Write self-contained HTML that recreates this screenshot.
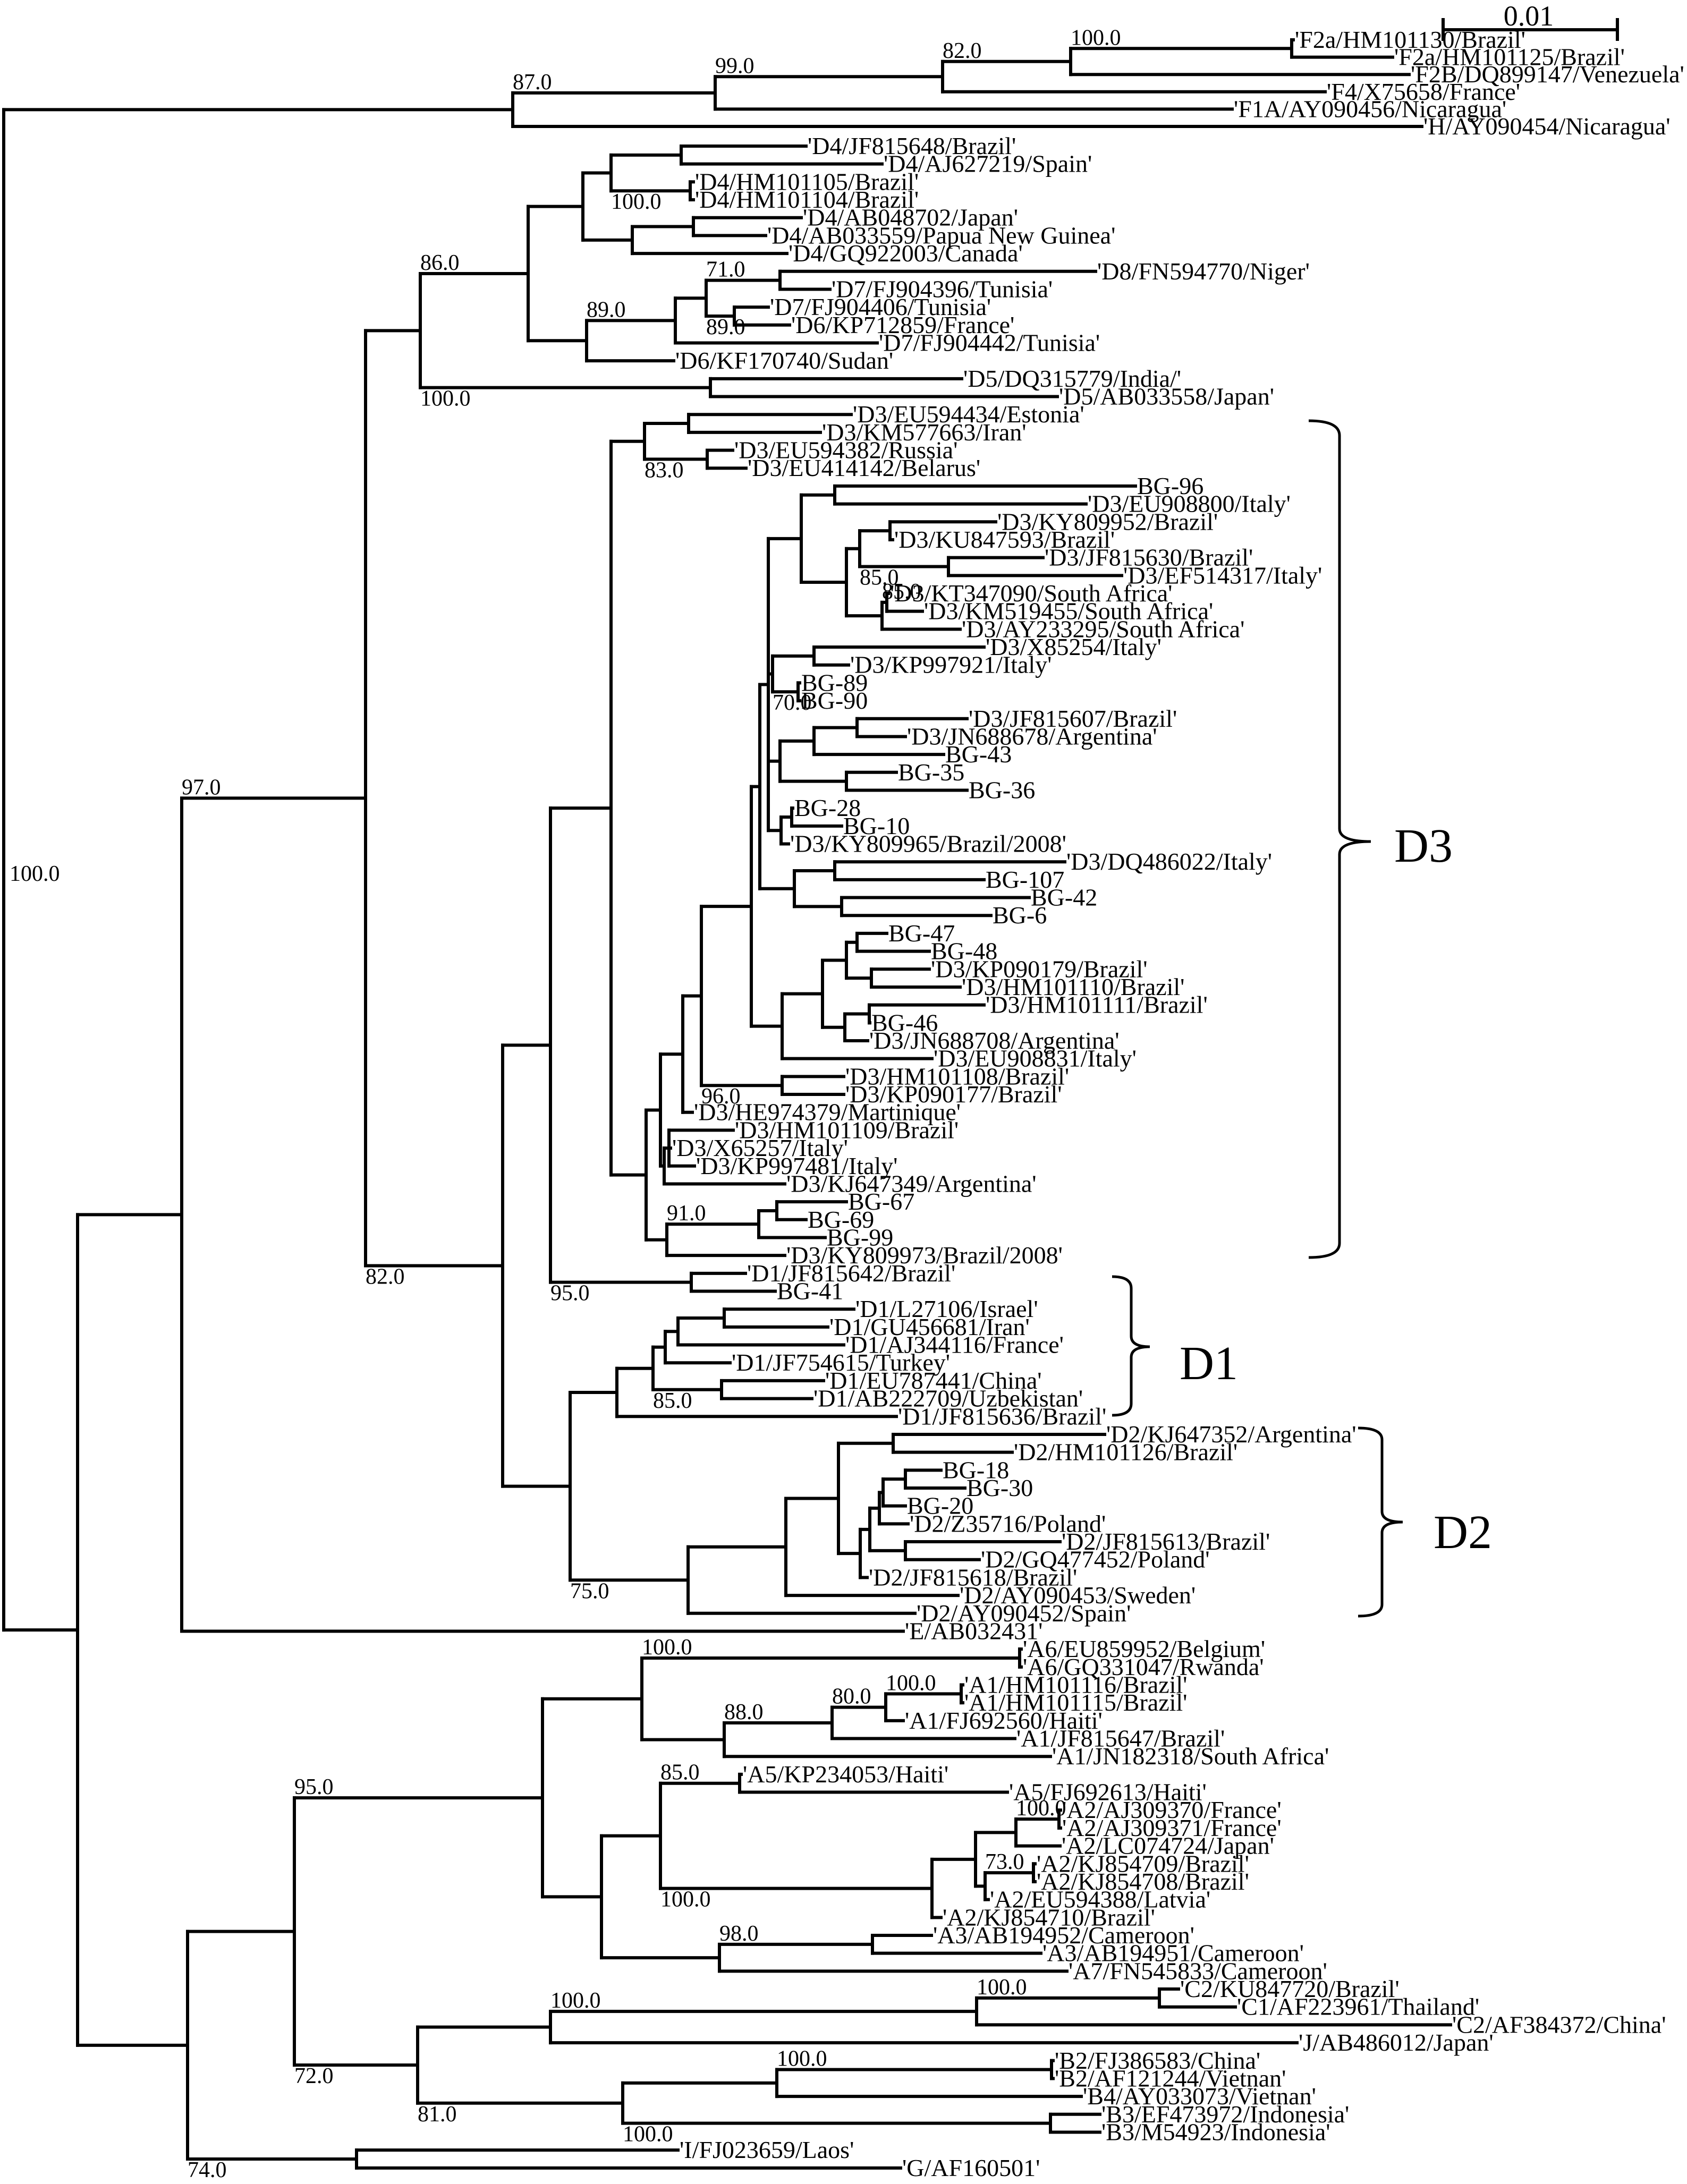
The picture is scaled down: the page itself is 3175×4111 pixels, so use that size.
<!DOCTYPE html>
<html><head><meta charset="utf-8">
<style>
html,body{margin:0;padding:0;background:#fff;}
svg{display:block;}
text{font-family:"Liberation Serif",serif;fill:#000;}
</style></head>
<body>
<svg id="tree" xmlns="http://www.w3.org/2000/svg" width="3175" height="4111" viewBox="0 0 3175 4111">
<g id="branches" stroke="#000" stroke-width="6" fill="none" stroke-linecap="square"></g>
<g id="labels" font-size="46"></g>
<g id="boots" font-size="42"></g>
<g stroke="#000" stroke-width="6" fill="none">
<line x1="2716" y1="56" x2="3044" y2="56"/><line x1="2716" y1="34" x2="2716" y2="77"/><line x1="3044" y1="34" x2="3044" y2="77"/>
</g>
<text x="2877" y="48" font-size="54" text-anchor="middle">0.01</text>
<text x="18" y="1658" font-size="42">100.0</text>
<g stroke="#000" stroke-width="5" fill="none">
<path d="M2463 792 Q2521 792 2521 820 L2521 1560 Q2521 1584 2580 1584 Q2521 1584 2521 1608 L2521 2340 Q2521 2367 2463 2367"/>
<path d="M2093 2403 Q2129 2403 2129 2425 L2129 2515 Q2129 2535 2164 2535 Q2129 2535 2129 2555 L2129 2642 Q2129 2664 2093 2664"/>
<path d="M2556 2688 Q2601 2688 2601 2710 L2601 2845 Q2601 2865 2640 2865 Q2601 2865 2601 2885 L2601 3020 Q2601 3042 2556 3042"/>
</g>
<text x="2624" y="1622" font-size="90">D3</text>
<text x="2220" y="2596" font-size="90">D1</text>
<text x="2698" y="2914" font-size="90">D2</text>
</svg>
<script>
function L(n,x){return {n:n,x:x};}
function N(x,c,b1,p1,b2,p2){return {x:x,c:c,b:[b1,p1,b2,p2]};}
const tree = N(7,[
 N(965,[
  N(1346,[
   N(1774,[
    N(2015,[N(2431,[L("'F2a/HM101130/Brazil'",2434),L("'F2a/HM101125/Brazil'",2621)]),L("'F2B/DQ899147/Venezuela'",2652)],'100.0','a'),
    L("'F4/X75658/France'",2494)
   ],'82.0','a'),
   L("'F1A/AY090456/Nicaragua'",2319)
  ],'99.0','a'),
  L("'H/AY090454/Nicaragua'",2676)
 ],'87.0','a'),
 N(146,[
  N(342,[
   N(688,[
    N(791,[
     N(994,[
      N(1097,[
       N(1150,[N(1282,[L("'D4/JF815648/Brazil'",1517),L("'D4/AJ627219/Spain'",1660)]),N(1299,[L("'D4/HM101105/Brazil'",1305),L("'D4/HM101104/Brazil'",1305)])],'100.0','b'),
       N(1190,[N(1305,[L("'D4/AB048702/Japan'",1508),L("'D4/AB033559/Papua New Guinea'",1441)]),L("'D4/GQ922003/Canada'",1481)])
      ]),
      N(1104,[
       N(1271,[
        N(1329,[N(1468,[L("'D8/FN594770/Niger'",2062),L("'D7/FJ904396/Tunisia'",1562)]),N(1382,[L("'D7/FJ904406/Tunisia'",1446),L("'D6/KP712859/France'",1486)])],'71.0','a','89.0','b'),
        L("'D7/FJ904442/Tunisia'",1651)
       ]),
       L("'D6/KF170740/Sudan'",1268)
      ],'89.0','a')
     ]),
     N(1337,[L("'D5/DQ315779/India/'",1810),L("'D5/AB033558/Japan'",1990)])
    ],'86.0','a','100.0','b'),
    N(946,[
     N(1036,[
      N(1150,[
       N(1213,[N(1296,[L("'D3/EU594434/Estonia'",1602),L("'D3/KM577663/Iran'",1544)]),N(1331,[L("'D3/EU594382/Russia'",1379),L("'D3/EU414142/Belarus'",1404)])],'83.0','b'),
       N(1216,[
        N(1243,[
         N(1285,[
          N(1320,[
           N(1414,[
            N(1430,[
             N(1446,[
              N(1508,[
               N(1571,[L("BG-96",2137),L("'D3/EU908800/Italy'",2044)]),
               N(1593,[
                N(1618,[N(1675,[L("'D3/KY809952/Brazil'",1874),L("'D3/KU847593/Brazil'",1680)]),N(1785,[L("'D3/JF815630/Brazil'",1963),L("'D3/EF514317/Italy'",2111)])],'85.0','b'),
                N(1660,[N(1669,[L("'D3/KT347090/South Africa'",1672),L("'D3/KM519455/South Africa'",1736)]),L("'D3/AY233295/South Africa'",1807)],'85.0','a')
               ])
              ]),
              N(1454,[N(1532,[L("'D3/X85254/Italy'",1852),L("'D3/KP997921/Italy'",1597)]),N(1502,[L("BG-89",1505),L("BG-90",1505)])],'70.0','b'),
              N(1468,[N(1532,[N(1613,[L("'D3/JF815607/Brazil'",1820),L("'D3/JN688678/Argentina'",1704)]),L("BG-43",1776)]),N(1593,[L("BG-35",1687),L("BG-36",1820)])]),
              N(1470,[N(1490,[L("BG-28",1492),L("BG-10",1584)]),L("'D3/KY809965/Brazil/2008'",1484)])
             ]),
             N(1495,[N(1571,[L("'D3/DQ486022/Italy'",2004),L("BG-107",1852)]),N(1584,[L("BG-42",1937),L("BG-6",1865)])])
            ]),
            N(1472,[
             N(1548,[
              N(1593,[N(1613,[L("BG-47",1669),L("BG-48",1749)]),N(1640,[L("'D3/KP090179/Brazil'",1749),L("'D3/HM101110/Brazil'",1807)])]),
              N(1590,[N(1636,[L("'D3/HM101111/Brazil'",1852),L("BG-46",1637)]),L("'D3/JN688708/Argentina'",1633)])
             ]),
             L("'D3/EU908831/Italy'",1754)
            ])
           ]),
           N(1472,[L("'D3/HM101108/Brazil'",1588),L("'D3/KP090177/Brazil'",1588)])
          ],'96.0','b'),
          L("'D3/HE974379/Martinique'",1303)
         ]),
         N(1250,[N(1259,[L("'D3/HM101109/Brazil'",1380),L("'D3/X65257/Italy'",1262),L("'D3/KP997481/Italy'",1307)]),L("'D3/KJ647349/Argentina'",1477)])
        ]),
        N(1255,[N(1428,[N(1462,[L("BG-67",1593),L("BG-69",1517)]),L("BG-99",1553)]),L("'D3/KY809973/Brazil/2008'",1477)],'91.0','a')
       ])
      ]),
      N(1301,[L("'D1/JF815642/Brazil'",1403),L("BG-41",1459)])
     ],'95.0','b'),
     N(1073,[
      N(1161,[
       N(1229,[
        N(1252,[N(1276,[N(1363,[L("'D1/L27106/Israel'",1607),L("'D1/GU456681/Iran'",1558)]),L("'D1/AJ344116/France'",1588)]),L("'D1/JF754615/Turkey'",1374)]),
        N(1358,[L("'D1/EU787441/China'",1550),L("'D1/AB222709/Uzbekistan'",1528)])
       ],'85.0','b'),
       L("'D1/JF815636/Brazil'",1687)
      ]),
      N(1295,[
       N(1479,[
        N(1578,[
         N(1681,[L("'D2/KJ647352/Argentina'",2079),L("'D2/HM101126/Brazil'",1905)]),
         N(1619,[
          N(1637,[
           N(1655,[N(1662,[N(1704,[L("BG-18",1771),L("BG-30",1816)]),L("BG-20",1704)]),L("'D2/Z35716/Poland'",1709)]),
           N(1704,[L("'D2/JF815613/Brazil'",1995),L("'D2/GQ477452/Poland'",1843)])
          ]),
          L("'D2/JF815618/Brazil'",1632)
         ])
        ]),
        L("'D2/AY090453/Sweden'",1803)
       ]),
       L("'D2/AY090452/Spain'",1722)
      ])
     ],'75.0','b')
    ])
   ],'82.0','b'),
   L("'E/AB032431'",1700)
  ],'97.0','a'),
  N(353,[
   N(554,[
    N(1021,[
     N(1208,[
      N(1919,[L("'A6/EU859952/Belgium'",1922),L("'A6/GQ331047/Rwanda'",1922)]),
      N(1363,[N(1566,[N(1667,[N(1809,[L("'A1/HM101116/Brazil'",1812),L("'A1/HM101115/Brazil'",1812)]),L("'A1/FJ692560/Haiti'",1700)],'100.0','a'),L("'A1/JF815647/Brazil'",1910)],'80.0','a'),L("'A1/JN182318/South Africa'",1977)],'88.0','a')
     ],'100.0','a'),
     N(1132,[
      N(1243,[
       N(1392,[L("'A5/KP234053/Haiti'",1395),L("'A5/FJ692613/Haiti'",1896)]),
       N(1754,[
        N(1836,[
         N(1912,[N(1993,[L("'A2/AJ309370/France'",1996),L("'A2/AJ309371/France'",1996)]),L("'A2/LC074724/Japan'",1995)],'100.0','a'),
         N(1854,[N(1945,[L("'A2/KJ854709/Brazil'",1948),L("'A2/KJ854708/Brazil'",1948)]),L("'A2/EU594388/Latvia'",1860)],'73.0','a')
        ]),
        L("'A2/KJ854710/Brazil'",1771)
       ])
      ],'85.0','a','100.0','b'),
      N(1354,[N(1642,[L("'A3/AB194952/Cameroon'",1753),L("'A3/AB194951/Cameroon'",1959)]),L("'A7/FN545833/Cameroon'",2008)],'98.0','a')
     ])
    ]),
    N(786,[
     N(1036,[
      N(1838,[N(2182,[L("'C2/KU847720/Brazil'",2218),L("'C1/AF223961/Thailand'",2325)]),L("'C2/AF384372/China'",2730)],'100.0','a'),
      L("'J/AB486012/Japan'",2441)
     ],'100.0','a'),
     N(1172,[
      N(1462,[N(1979,[L("'B2/FJ386583/China'",1982),L("'B2/AF121244/Vietnan'",1982)]),L("'B4/AY033073/Vietnan'",2035)],'100.0','a'),
      N(1977,[L("'B3/EF473972/Indonesia'",2070),L("'B3/M54923/Indonesia'",2070)])
     ],'100.0','b')
    ],'81.0','b')
   ],'95.0','a','72.0','b'),
   N(671,[L("'I/FJ023659/Laos'",1276),L("'G/AF160501'",1695)])
  ],'74.0','b')
 ])
]);

const NS='http://www.w3.org/2000/svg';
const gB=document.getElementById('branches');
const gL=document.getElementById('labels');
const gT=document.getElementById('boots');
let leafIdx=0;
function leafY(i){return i<6 ? 75+i*32.6 : 275+(i-6)*33.68;}
function layout(node){
  if(!node.c){node.y=leafY(leafIdx++);return node.y;}
  node.c.forEach(layout);
  node.y=(node.c[0].y+node.c[node.c.length-1].y)/2;
  return node.y;
}
layout(tree);
function line(x1,y1,x2,y2,name){
  const l=document.createElementNS(NS,'line');
  l.setAttribute('x1',x1);l.setAttribute('y1',y1);l.setAttribute('x2',x2);l.setAttribute('y2',y2);
  
  
  gB.appendChild(l);
}
function txt(g,x,y,s,name){
  const t=document.createElementNS(NS,'text');
  t.setAttribute('x',x);t.setAttribute('y',y);t.textContent=s;
  
  
  g.appendChild(t);
}
function draw(node){
  if(!node.c){txt(gL,node.x+3,node.y+15,node.n,'tip-label');return;}
  const f=node.c[0], l=node.c[node.c.length-1];
  line(node.x,f.y,node.x,l.y,'node-vertical');
  node.c.forEach(ch=>{line(node.x,ch.y,ch.x,ch.y,'branch');draw(ch);});
  for(let k=0;k<4;k+=2){
    const b=node.b[k], p=node.b[k+1];
    if(!b)continue;
    if(p==='a') txt(gT,node.x,f.y-7,b,'bootstrap-value');
    else txt(gT,node.x,l.y+34,b,'bootstrap-value');
  }
}
draw(tree);
</script>
</body></html>
